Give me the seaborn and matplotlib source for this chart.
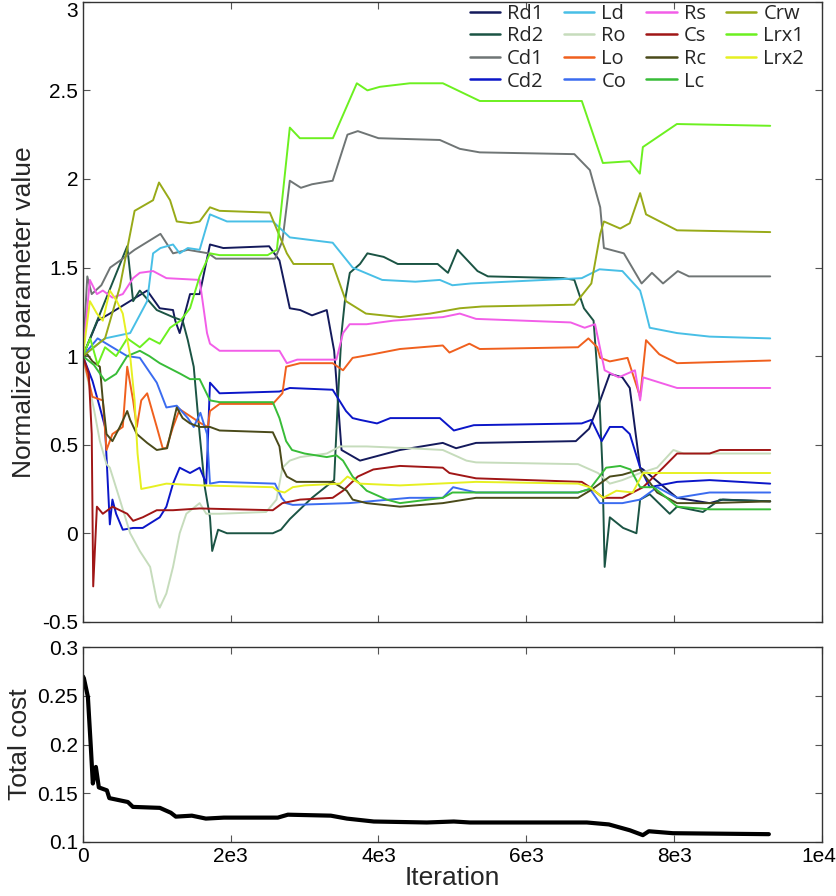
"""
Parameter estimation trace: normalized parameter values and total cost per iteration
"""
import numpy as np
import pandas as pd
import matplotlib
matplotlib.use('Agg')
import matplotlib.pyplot as plt
import matplotlib.transforms as mtransforms
import seaborn as sns

# ============================================================================
# DATA (keypoints, x = iteration)
# ============================================================================
names = ['Rd1', 'Rd2', 'Cd1', 'Cd2', 'Ld', 'Ro', 'Lo', 'Co',
         'Rs', 'Cs', 'Rc', 'Lc', 'Crw', 'Lrx1', 'Lrx2']

colors = ['#141a5c', '#1b5444', '#6f7575', '#0b16c8', '#48bfe6', '#c6dcbc',
          '#f0601e', '#3b6cf0', '#f25ee8', '#a01616', '#4a4a1a', '#38bc38',
          '#98aa18', '#6cf020', '#e6f022']

rd1_x = [0, 200, 365, 870, 1040, 1220, 1250, 1310, 1450, 1580, 1720, 1900, 2520, 2660, 2800, 2940, 3100, 3300, 3400, 3450, 3500, 3750, 4290, 4870, 5050, 5320, 6670, 6850, 7000, 7130, 7300, 7400, 7480, 7540, 7580, 8040, 8480, 8660, 9300]
rd1_y = [1.0, 1.2, 1.24, 1.37, 1.27, 1.26, 1.2, 1.13, 1.35, 1.35, 1.63, 1.61, 1.62, 1.54, 1.27, 1.26, 1.23, 1.26, 1.03, 0.75, 0.47, 0.41, 0.47, 0.51, 0.48, 0.51, 0.52, 0.59, 0.75, 0.9, 0.88, 0.82, 0.56, 0.37, 0.36, 0.2, 0.17, 0.19, 0.18]

rd2_x = [0, 300, 600, 680, 770, 1000, 1220, 1350, 1420, 1500, 1580, 1650, 1720, 1750, 1830, 1950, 2570, 2680, 2800, 3100, 3400, 3450, 3500, 3545, 3612, 3750, 3850, 4070, 4260, 4800, 4940, 5070, 5340, 5480, 6500, 6650, 6780, 6910, 6990, 7030, 7060, 7130, 7310, 7490, 7540, 7670, 7940, 8040, 8390, 8620, 9300]
rd2_y = [1.0, 1.31, 1.62, 1.31, 1.37, 1.26, 1.22, 1.2, 1.09, 0.94, 0.56, 0.26, 0.09, -0.1, 0.02, 0.0, 0.0, 0.02, 0.08, 0.2, 0.3, 0.75, 1.13, 1.31, 1.47, 1.52, 1.58, 1.56, 1.52, 1.52, 1.47, 1.6, 1.48, 1.45, 1.44, 1.43, 1.27, 1.2, 0.75, 0.37, -0.19, 0.09, 0.03, 0.0, 0.19, 0.22, 0.11, 0.15, 0.12, 0.19, 0.18]

cd1_x = [0, 60, 120, 250, 370, 540, 700, 1050, 1220, 1420, 1700, 1800, 2600, 2700, 2800, 2950, 3100, 3380, 3580, 3720, 4000, 4830, 5100, 5370, 6650, 6860, 7000, 7050, 7320, 7560, 7700, 7850, 8050, 8200, 9300]
cd1_y = [1.0, 1.45, 1.35, 1.4, 1.5, 1.55, 1.6, 1.69, 1.58, 1.6, 1.58, 1.55, 1.55, 1.65, 1.99, 1.95, 1.97, 1.99, 2.25, 2.27, 2.23, 2.22, 2.17, 2.15, 2.14, 2.05, 1.84, 1.61, 1.58, 1.41, 1.47, 1.41, 1.48, 1.45, 1.45]

cd2_x = [0, 130, 230, 300, 365, 400, 450, 540, 680, 810, 1040, 1130, 1220, 1310, 1450, 1580, 1670, 1720, 1850, 2660, 2800, 3380, 3560, 3650, 3750, 3980, 4160, 4830, 5020, 5290, 6750, 6880, 7020, 7130, 7300, 7400, 7540, 7670, 8040, 8480, 9300]
cd2_y = [1.0, 0.86, 0.71, 0.6, 0.05, 0.19, 0.11, 0.02, 0.03, 0.03, 0.09, 0.15, 0.28, 0.37, 0.34, 0.37, 0.28, 0.85, 0.79, 0.8, 0.82, 0.81, 0.69, 0.65, 0.64, 0.62, 0.65, 0.65, 0.58, 0.61, 0.62, 0.64, 0.52, 0.6, 0.6, 0.56, 0.37, 0.26, 0.29, 0.3, 0.28]

ld_x = [0, 300, 640, 870, 950, 1050, 1220, 1310, 1420, 1580, 1720, 1950, 2570, 2800, 3380, 3650, 4050, 4500, 4830, 5000, 5250, 6750, 6990, 7300, 7540, 7580, 7670, 8040, 8480, 9300]
ld_y = [1.0, 1.1, 1.13, 1.31, 1.58, 1.61, 1.63, 1.58, 1.61, 1.6, 1.8, 1.76, 1.76, 1.67, 1.64, 1.5, 1.43, 1.42, 1.43, 1.4, 1.41, 1.44, 1.49, 1.48, 1.37, 1.31, 1.16, 1.13, 1.11, 1.1]

ro_x = [0, 150, 230, 320, 365, 500, 640, 770, 910, 1000, 1040, 1130, 1220, 1310, 1400, 1580, 1670, 1850, 2480, 2620, 2700, 2800, 2940, 3300, 3480, 3840, 4420, 4870, 5190, 5320, 6700, 6970, 7130, 7300, 7540, 7770, 7990, 8130, 9300]
ro_y = [1.0, 0.7, 0.52, 0.39, 0.37, 0.19, 0.0, -0.1, -0.19, -0.38, -0.42, -0.34, -0.19, 0.0, 0.11, 0.17, 0.11, 0.11, 0.12, 0.19, 0.37, 0.41, 0.43, 0.45, 0.49, 0.49, 0.48, 0.47, 0.41, 0.4, 0.39, 0.34, 0.28, 0.3, 0.34, 0.37, 0.47, 0.45, 0.45]

lo_x = [0, 130, 270, 320, 400, 540, 600, 680, 730, 790, 870, 1000, 1080, 1130, 1220, 1310, 1600, 1690, 1720, 1850, 2570, 2700, 2750, 2940, 3380, 3520, 3650, 3920, 4290, 4870, 4960, 5230, 5370, 6700, 6840, 6960, 7000, 7130, 7370, 7540, 7620, 7800, 8040, 9300]
lo_y = [1.0, 0.77, 0.75, 0.47, 0.56, 0.6, 0.94, 0.75, 0.6, 0.75, 0.79, 0.6, 0.48, 0.48, 0.6, 0.7, 0.62, 0.6, 0.69, 0.73, 0.73, 0.79, 0.94, 0.96, 0.96, 0.92, 0.99, 1.01, 1.04, 1.06, 1.02, 1.07, 1.04, 1.05, 1.1, 1.05, 0.99, 0.97, 0.99, 0.77, 1.09, 1.01, 0.96, 0.975]

co_x = [0, 200, 400, 600, 771, 1000, 1130, 1270, 1420, 1500, 1590, 1680, 1720, 1850, 2600, 2690, 2750, 2840, 3600, 4420, 4870, 5010, 5320, 6700, 6860, 6995, 7300, 7540, 7770, 8040, 8480, 9300]
co_y = [1.0, 1.1, 1.05, 1.0, 0.99, 0.85, 0.71, 0.72, 0.65, 0.6, 0.68, 0.56, 0.28, 0.29, 0.28, 0.2, 0.17, 0.16, 0.17, 0.2, 0.2, 0.26, 0.23, 0.23, 0.25, 0.17, 0.17, 0.19, 0.26, 0.2, 0.23, 0.23]

rs_x = [0, 95, 190, 270, 400, 540, 680, 770, 950, 1130, 1580, 1680, 1720, 1850, 2660, 2760, 2900, 3430, 3520, 3610, 3840, 4200, 4870, 5100, 5320, 6600, 6790, 6930, 7060, 7250, 7470, 7540, 7580, 8040, 9300]
rs_y = [1.0, 1.43, 1.35, 1.37, 1.33, 1.35, 1.44, 1.47, 1.48, 1.44, 1.43, 1.13, 1.07, 1.03, 1.03, 0.96, 0.98, 0.98, 1.13, 1.18, 1.18, 1.2, 1.22, 1.24, 1.21, 1.19, 1.16, 1.18, 0.92, 0.88, 0.92, 0.75, 0.88, 0.82, 0.82]

cs_x = [0, 80, 120, 140, 190, 270, 400, 600, 680, 810, 1000, 1220, 1580, 2570, 2700, 2940, 3380, 3520, 3720, 3930, 4290, 4870, 4960, 5320, 6750, 6860, 7040, 7300, 7580, 7850, 8040, 8480, 8620, 9300]
cs_y = [1.0, 0.9, 0.56, -0.3, 0.15, 0.11, 0.15, 0.11, 0.07, 0.09, 0.13, 0.13, 0.14, 0.13, 0.17, 0.19, 0.2, 0.24, 0.32, 0.36, 0.38, 0.37, 0.34, 0.31, 0.29, 0.26, 0.2, 0.2, 0.26, 0.37, 0.45, 0.45, 0.47, 0.47]

rc_x = [0, 60, 130, 230, 270, 320, 400, 500, 600, 640, 730, 870, 1000, 1140, 1270, 1350, 1450, 1580, 1720, 1850, 2570, 2660, 2700, 2760, 2890, 3380, 3570, 3650, 3840, 4290, 4870, 5320, 6700, 6860, 7130, 7300, 7540, 7770, 8040, 8480, 9300]
rc_y = [1.0, 1.01, 0.97, 0.94, 0.75, 0.56, 0.52, 0.6, 0.69, 0.64, 0.56, 0.51, 0.47, 0.48, 0.71, 0.65, 0.62, 0.6, 0.6, 0.58, 0.57, 0.49, 0.37, 0.32, 0.29, 0.29, 0.24, 0.19, 0.17, 0.15, 0.17, 0.2, 0.2, 0.24, 0.32, 0.33, 0.36, 0.23, 0.17, 0.17, 0.18]

lc_x = [0, 150, 300, 450, 600, 771, 900, 1040, 1180, 1320, 1450, 1580, 1720, 1850, 2570, 2660, 2750, 2830, 3000, 3300, 3430, 3520, 3650, 3840, 4110, 4290, 4870, 5000, 5320, 6700, 6860, 7080, 7270, 7410, 7540, 7720, 7900, 8040, 8480, 9300]
lc_y = [1.0, 0.95, 0.86, 0.9, 1.0, 1.03, 1.0, 0.96, 0.93, 0.9, 0.87, 0.87, 0.75, 0.74, 0.74, 0.65, 0.52, 0.47, 0.45, 0.43, 0.44, 0.41, 0.32, 0.24, 0.19, 0.17, 0.2, 0.23, 0.23, 0.23, 0.25, 0.37, 0.38, 0.36, 0.26, 0.26, 0.2, 0.15, 0.135, 0.135]

crw_x = [0, 150, 300, 500, 700, 950, 1030, 1180, 1270, 1450, 1580, 1720, 1850, 2530, 2760, 2850, 3380, 3560, 3830, 4290, 4700, 5100, 5400, 6650, 6880, 7000, 7050, 7270, 7400, 7540, 7620, 8040, 9300]
crw_y = [1.0, 1.05, 1.1, 1.39, 1.82, 1.88, 1.98, 1.88, 1.76, 1.75, 1.76, 1.84, 1.82, 1.81, 1.58, 1.52, 1.52, 1.31, 1.24, 1.22, 1.24, 1.27, 1.28, 1.29, 1.41, 1.69, 1.76, 1.72, 1.75, 1.92, 1.8, 1.71, 1.7]

lrx1_x = [0, 100, 200, 300, 450, 600, 771, 900, 1040, 1180, 1320, 1450, 1580, 1720, 1850, 2500, 2625, 2800, 2936, 3383, 3707, 3850, 4018, 4424, 4871, 5371, 6751, 7036, 7401, 7536, 7577, 8037, 9300]
lrx1_y = [1.0, 1.1, 0.95, 1.05, 1.0, 1.1, 1.05, 1.1, 1.07, 1.16, 1.2, 1.27, 1.45, 1.58, 1.57, 1.57, 1.6, 2.29, 2.23, 2.23, 2.54, 2.5, 2.52, 2.54, 2.54, 2.44, 2.44, 2.09, 2.1, 2.03, 2.18, 2.31, 2.3]

lrx2_x = [0, 95, 190, 270, 365, 460, 540, 640, 700, 740, 790, 910, 1130, 1600, 2570, 2630, 2730, 2840, 3000, 3480, 3580, 3750, 4290, 5320, 6700, 6860, 7040, 7220, 7440, 7580, 7850, 9300]
lrx2_y = [1.0, 1.31, 1.24, 1.2, 1.37, 1.31, 1.24, 1.0, 0.75, 0.45, 0.25, 0.26, 0.28, 0.27, 0.26, 0.24, 0.23, 0.26, 0.27, 0.28, 0.32, 0.28, 0.27, 0.29, 0.28, 0.26, 0.2, 0.24, 0.23, 0.34, 0.34, 0.34]

cost_x = [0, 14, 68, 108, 135, 176, 216, 325, 358, 609, 677, 1042, 1190, 1258, 1475, 1664, 1908, 2638, 2774, 3355, 3572, 3937, 4654, 5019, 5236, 6819, 7117, 7401, 7577, 7658, 7983, 9282]
cost_y = [0.27, 0.268, 0.249, 0.197, 0.16, 0.177, 0.156, 0.153, 0.145, 0.141, 0.136, 0.135, 0.13, 0.126, 0.127, 0.124, 0.125, 0.125, 0.128, 0.127, 0.124, 0.121, 0.12, 0.121, 0.12, 0.12, 0.118, 0.112, 0.107, 0.111, 0.109, 0.108]

series_x = [rd1_x, rd2_x, cd1_x, cd2_x, ld_x, ro_x, lo_x, co_x,
            rs_x, cs_x, rc_x, lc_x, crw_x, lrx1_x, lrx2_x]
series_y = [rd1_y, rd2_y, cd1_y, cd2_y, ld_y, ro_y, lo_y, co_y,
            rs_y, cs_y, rc_y, lc_y, crw_y, lrx1_y, lrx2_y]

x_ticks = [0, 2000, 4000, 6000, 8000, 10000]
x_ticklabels = ['0', '2e3', '4e3', '6e3', '8e3', '1e4']
top_yticks = [-0.5, 0, 0.5, 1, 1.5, 2, 2.5, 3]
top_yticklabels = ['-0.5', '0', '0.5', '1', '1.5', '2', '2.5', '3']
cost_yticks = [0.1, 0.15, 0.2, 0.25, 0.3]
cost_yticklabels = ['0.1', '0.15', '0.2', '0.25', '0.3']

# ============================================================================
# STYLE
# ============================================================================
sns.set_style('ticks')
plt.rcParams['font.family'] = ['Liberation Sans', 'DejaVu Sans']
plt.rcParams['axes.linewidth'] = 1.0
plt.rcParams['axes.edgecolor'] = '#333333'

fig = plt.figure(figsize=(8.37, 8.96), dpi=100)
ax1 = fig.add_axes([0.099, 0.306, 0.883, 0.692])
ax2 = fig.add_axes([0.099, 0.0603, 0.883, 0.2175])

# ============================================================================
# TOP PANEL: normalized parameters
# ============================================================================
for name, col, xs, ys in zip(names, colors, series_x, series_y):
    df = pd.DataFrame({'iteration': xs, 'value': ys})
    sns.lineplot(data=df, x='iteration', y='value', ax=ax1, color=col,
                 label=name, lw=1.4, sort=False, estimator=None)

ax1.set_xlim(0, 10000)
ax1.set_ylim(-0.5, 3)
ax1.set_xticks(x_ticks)
ax1.set_xticklabels([])
ax1.set_yticks(top_yticks)
ax1.set_yticklabels(top_yticklabels)
ax1.set_xlabel('')
ax1.set_ylabel('Normalized parameter value', fontsize=19, labelpad=4)

leg = ax1.legend(ncol=4, loc='upper right', bbox_to_anchor=(0.976, 0.997),
                 frameon=False, handlelength=1.5, handletextpad=0.35,
                 columnspacing=1.0, labelspacing=0.13, borderaxespad=0,
                 borderpad=0, prop={'family': 'Open Sans', 'size': 14.5})
for h in leg.get_lines():
    h.set_linewidth(1.8)

# ============================================================================
# BOTTOM PANEL: total cost
# ============================================================================
cost_df = pd.DataFrame({'iteration': cost_x, 'cost': cost_y})
sns.lineplot(data=cost_df, x='iteration', y='cost', ax=ax2, color='black',
             lw=3, sort=False, estimator=None)
ax2.set_xlim(0, 10000)
ax2.set_ylim(0.1, 0.3)
ax2.set_xticks(x_ticks)
ax2.set_xticklabels(x_ticklabels)
ax2.set_yticks(cost_yticks)
ax2.set_yticklabels(cost_yticklabels)
ax2.set_xlabel('Iteration', fontsize=19, labelpad=0)
ax2.set_ylabel('Total cost', fontsize=19, labelpad=4)

for ax in (ax1, ax2):
    ax.tick_params(direction='in', length=5, width=0.8, labelsize=15,
                   top=True, right=True, colors='#555555', labelcolor='black')
    for s in ax.spines.values():
        s.set_visible(True)

# keep the edge labels inside the canvas
top_lbl = ax1.get_yticklabels()[-1]
top_lbl.set_va('top')
last_x = ax2.get_xticklabels()[-1]
last_x.set_ha('right')
last_x.set_transform(last_x.get_transform() +
                     mtransforms.ScaledTranslation(0.14, 0, fig.dpi_scale_trans))

fig.align_ylabels([ax1, ax2])
fig.savefig('out.png', dpi=100)
